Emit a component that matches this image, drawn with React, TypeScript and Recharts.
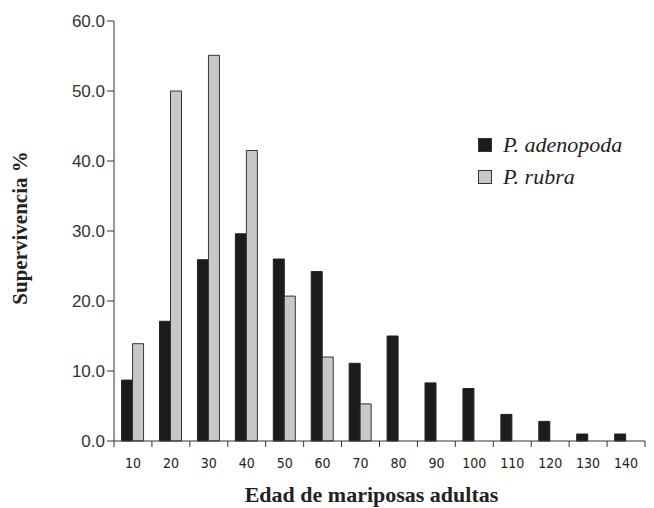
import React from 'react';
import { BarChart, Bar, XAxis, YAxis, Legend, Label } from 'recharts';

const ages = [10, 20, 30, 40, 50, 60, 70, 80, 90, 100, 110, 120, 130, 140];
const adenopoda = [8.7, 17.1, 25.9, 29.6, 26.0, 24.2, 11.1, 15.0, 8.3, 7.5, 3.8, 2.8, 1.0, 1.0];
const rubra = [13.9, 50.0, 55.1, 41.5, 20.7, 12.0, 5.3, null, null, null, null, null, null, null];
const yTicks = [0, 10, 20, 30, 40, 50, 60];

const data = ages.map((age, i) => ({ age, adenopoda: adenopoda[i], rubra: rubra[i] }));

const BAND = 531 / ages.length;

const XTick = (props: any) => {
  const { x, y, payload, index } = props;
  const last = index === ages.length - 1;
  return (
    <g>
      <line x1={x - BAND / 2} x2={x - BAND / 2} y1={y - 8} y2={y - 2} stroke="#333" />
      {last && <line x1={x + BAND / 2} x2={x + BAND / 2} y1={y - 8} y2={y - 2} stroke="#333" />}
      <text
        x={x}
        y={y + 19}
        textAnchor="middle"
        fontSize={14}
        fill="#222"
        fontFamily="'Liberation Sans Narrow', 'DejaVu Sans Condensed', sans-serif"
      >
        {payload.value}
      </text>
    </g>
  );
};

const LegendBox = () => (
  <div style={{ fontFamily: "'Liberation Serif', 'Times New Roman', serif", fontStyle: 'italic', fontSize: 22, color: '#222' }}>
    {[
      { name: 'P. adenopoda', fill: '#1c1c1c' },
      { name: 'P. rubra', fill: '#c8c8c8' },
    ].map((it) => (
      <div key={it.name} style={{ display: 'flex', alignItems: 'center', height: 32 }}>
        <span style={{ display: 'inline-block', width: 12, height: 12, background: it.fill, border: '1.5px solid #333', marginRight: 11 }} />
        <span>{it.name}</span>
      </div>
    ))}
  </div>
);

export default function App() {
  return (
    <div style={{ position: 'absolute', left: 0, top: 0, background: '#fff' }}>
      <BarChart
        width={654}
        height={508}
        data={data}
        margin={{ top: 21, right: 9, left: 54, bottom: 37 }}
        barCategoryGap="20%"
        barGap={0}
      >
        <XAxis
          dataKey="age"
          tick={<XTick />}
          tickLine={false}
          axisLine={{ stroke: '#333' }}
          height={30}
          interval={0}
        >
          <Label
            value="Edad de mariposas adultas"
            position="insideBottom"
            offset={-31}
            dx={-8}
            style={{ fontFamily: "'Liberation Serif', 'Times New Roman', serif", fontWeight: 'bold', fontSize: 22, fill: '#222' }}
          />
        </XAxis>
        <YAxis
          domain={[0, 60]}
          ticks={yTicks}
          width={60}
          tickFormatter={(v: number) => v.toFixed(1)}
          tick={{ fontSize: 17, fill: '#333', fontFamily: "'Liberation Sans', Arial, sans-serif" }}
          tickSize={7}
          tickLine={{ stroke: '#333' }}
          axisLine={{ stroke: '#333' }}
        >
          <Label
            value="Supervivencia %"
            angle={-90}
            position="insideLeft"
            offset={-34}
            dy={-3}
            style={{ textAnchor: 'middle', fontFamily: "'Liberation Serif', 'Times New Roman', serif", fontWeight: 'bold', fontSize: 21, fill: '#222' }}
          />
        </YAxis>
        <Legend
          content={<LegendBox />}
          layout="horizontal"
          verticalAlign="middle"
          align="center"
          wrapperStyle={{ left: 478, top: 129, width: 176 }}
        />
        <Bar dataKey="adenopoda" fill="#1c1c1c" stroke="#222" strokeWidth={1} isAnimationActive={false} />
        <Bar dataKey="rubra" fill="#c8c8c8" stroke="#333" strokeWidth={1} isAnimationActive={false} />
      </BarChart>
    </div>
  );
}
